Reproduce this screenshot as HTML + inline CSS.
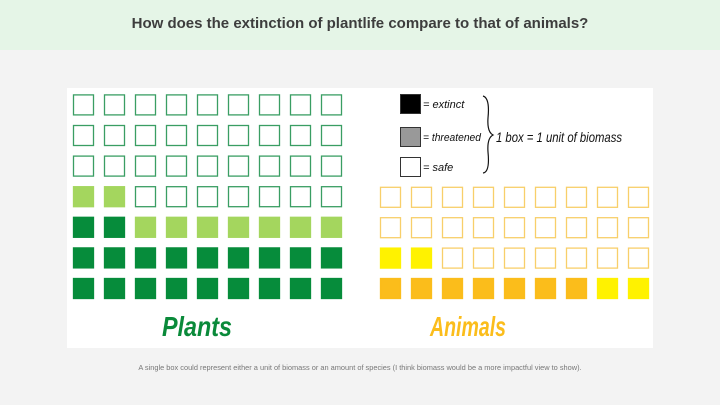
<!DOCTYPE html>
<html><head><meta charset="utf-8"><style>
body{margin:0;width:720px;height:405px;background:#f3f3f3;font-family:"Liberation Sans",sans-serif;position:relative;overflow:hidden}
#title-bar{position:absolute;left:0;top:0;width:720px;height:50px;background:#e5f5e7}
#title{position:absolute;left:0;top:15px;width:720px;text-align:center;font-size:15px;font-weight:bold;color:#3d3d3d;font-family:"Liberation Sans Narrow","Liberation Sans",sans-serif}
#panel{position:absolute;left:67px;top:88px;width:586px;height:260px;background:#fff}
#caption{position:absolute;left:0;top:363px;width:720px;text-align:center;font-size:7.4px;color:#777}
svg{position:absolute;left:0;top:0}
</style></head><body>
<div id="title-bar"></div>
<div id="title">How does the extinction of plantlife compare to that of animals?</div>
<div id="panel"></div>
<svg id="chart" width="720" height="405">
<g>
<rect x="400.5" y="94.5" width="20" height="19" fill="#000" stroke="#333"/>
<rect x="400.5" y="127.5" width="20" height="19" fill="#999" stroke="#333"/>
<rect x="400.5" y="157.5" width="20" height="19" fill="#fff" stroke="#333"/>
<text x="423" y="108" font-size="11" font-style="italic" fill="#111">= extinct</text>
<text x="423" y="141" font-size="11" font-style="italic" fill="#111" textLength="58" lengthAdjust="spacingAndGlyphs">= threatened</text>
<text x="423" y="171" font-size="11" font-style="italic" fill="#111">= safe</text>
<path d="M483,96 Q490,98 488,118 Q487,132 493,135 Q487,138 488,152 Q490,172 483,173" fill="none" stroke="#111" stroke-width="1.2"/>
<text x="496" y="142" font-size="14" font-style="italic" fill="#111" textLength="126" lengthAdjust="spacingAndGlyphs">1 box = 1 unit of biomass</text>
</g>
<text x="162" y="336" font-size="28" font-style="italic" font-weight="bold" fill="#0a8a3a" textLength="70" lengthAdjust="spacingAndGlyphs">Plants</text>
<text x="430" y="336" font-size="28" font-style="italic" font-weight="bold" fill="#fbbd1b" textLength="76" lengthAdjust="spacingAndGlyphs">Animals</text>
</svg>
<div id="caption">A single box could represent either a unit of biomass or an amount of species (I think biomass would be a more impactful view to show).</div>
<script>
const groups = ["plants","animals"];
const extinctCounts = [20, 7];
const threatenedCounts = [9, 4];
const safeCounts = [34, 25];
const gridRows = [7, 4];

const cols = 9;
const layout = [
 {x0:73, pitch:31, bottom:278, rowPitch:30.6, c:["#068c3b","#a4d65e","#fff"], stroke:"#3a9e63"},
 {x0:380, pitch:31, bottom:278, rowPitch:30.4, c:["#fbbd1b","#fff200","#fff"], stroke:"#f8cf6a"}
];
const svg = document.getElementById('chart');
const NS = "http://www.w3.org/2000/svg";
groups.forEach((g, gi) => {
  const L = layout[gi];
  const total = extinctCounts[gi] + threatenedCounts[gi] + safeCounts[gi];
  for (let i = 0; i < total; i++) {
    const row = Math.floor(i / cols), col = i % cols;
    const status = i < extinctCounts[gi] ? 0 : (i < extinctCounts[gi] + threatenedCounts[gi] ? 1 : 2);
    const r = document.createElementNS(NS, 'rect');
    r.setAttribute('x', L.x0 + col * L.pitch + 0.5);
    r.setAttribute('y', L.bottom - row * L.rowPitch + 0.5);
    r.setAttribute('width', 20);
    r.setAttribute('height', 20);
    r.setAttribute('fill', L.c[status]);
    r.setAttribute('stroke', status === 2 ? L.stroke : L.c[status]);
    r.setAttribute('stroke-width', 1.3);
    
    
    svg.appendChild(r);
  }
});
</script>
</body></html>
